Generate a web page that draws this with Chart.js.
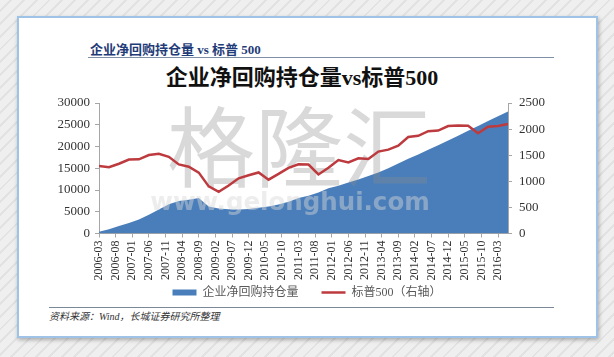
<!DOCTYPE html>
<html>
<head>
<meta charset="utf-8">
<script src="https://cdn.jsdelivr.net/npm/chart.js@4.4.1/dist/chart.umd.min.js"></script>
<style>
html,body{margin:0;padding:0;width:614px;height:357px;overflow:hidden;}
body{position:relative;background:repeating-linear-gradient(135deg,#efefef 0px,#efefef 7px,#e2e2e2 7px,#e2e2e2 9px);font-family:"Liberation Serif","Noto Sans CJK SC",serif;}
#card{position:absolute;left:17px;top:16px;width:577px;height:318px;background:#fff;border:2px solid #9fc3e7;box-shadow:1px 2px 4px rgba(0,0,0,0.28);}
#hdr{position:absolute;left:90px;top:42px;font-size:13px;line-height:16px;font-weight:bold;color:#1f3c78;white-space:nowrap;}
#hline{position:absolute;left:88px;top:57px;width:466px;height:0;border-top:1.5px solid #8090a4;}
#title{position:absolute;left:0;top:64px;width:604px;text-align:center;font-size:22px;line-height:28px;font-weight:bold;color:#111;white-space:nowrap;}
#fline{position:absolute;left:49px;top:307px;width:505px;height:0;border-top:1.5px solid #7a8898;}
#src{position:absolute;left:49px;top:310px;font-size:10px;line-height:14px;font-style:italic;color:#333;white-space:nowrap;}
#c{position:absolute;left:0;top:0;}
</style>
</head>
<body>
<div id="card"></div>
<div id="hdr">企业净回购持仓量 vs 标普 500</div>
<div id="hline"></div>
<div id="title">企业净回购持仓量vs标普500</div>
<div id="fline"></div>
<div id="src">资料来源：Wind，长城证券研究所整理</div>
<canvas id="c" width="614" height="357"></canvas>
<script>
// quarterly observation dates
const quarters = [
 '2006-03','2006-06','2006-09','2006-12',
 '2007-03','2007-06','2007-09','2007-12',
 '2008-03','2008-06','2008-09','2008-12',
 '2009-03','2009-06','2009-09','2009-12',
 '2010-03','2010-06','2010-09','2010-12',
 '2011-03','2011-06','2011-09','2011-12',
 '2012-03','2012-06','2012-09','2012-12',
 '2013-03','2013-06','2013-09','2013-12',
 '2014-03','2014-06','2014-09','2014-12',
 '2015-03','2015-06','2015-09','2015-12',
 '2016-03','2016-06'
];
// 企业净回购持仓量 (left axis)
const buyback = [
 400,1000,1700,2400,
 3200,4300,5500,6700,
 7450,7750,8150,6200,
 5750,5550,5500,5650,
 5900,6200,6650,7300,
 8150,8700,9400,10400,
 11000,11700,12400,13200,
 14000,15000,16100,17200,
 18150,19250,20300,21400,
 22500,23600,24700,25850,
 26950,28050
];
// 标普500 (right axis)
const sp500 = [
 1295,1270,1336,1418,
 1421,1503,1527,1468,
 1323,1280,1166,903,
 798,919,1057,1115,
 1169,1031,1141,1258,
 1326,1321,1131,1258,
 1408,1362,1441,1426,
 1569,1606,1682,1848,
 1872,1960,1972,2059,
 2068,2063,1920,2044,
 2060,2099
];
// x-axis tick labels (every 5 months)
const tickLabels = [
 '2006-03','2006-08','2007-01','2007-06','2007-11','2008-04','2008-09',
 '2009-02','2009-07','2009-12','2010-05','2010-10','2011-03','2011-08',
 '2012-01','2012-06','2012-11','2013-04','2013-09','2014-02','2014-07',
 '2014-12','2015-05','2015-10','2016-03'
];
const leftMax = 30000, leftStep = 5000;
const rightMax = 2500, rightStep = 500;

function monthIndex(s){
  const p = s.split('-').map(Number);
  return (p[0]-2006)*12 + (p[1]-3);
}
const lastMonth = monthIndex(quarters[quarters.length-1]);

Chart.defaults.font.family = '"Liberation Serif","Noto Sans CJK SC",serif';

const watermark = {
  id:'watermark',
  afterDatasetDraw(chart, args){
    if (args.index !== 0) return;
    const ctx = chart.ctx;
    ctx.save();
    ctx.textAlign = 'center';
    ctx.textBaseline = 'middle';
    ctx.fillStyle = 'rgba(140,140,140,0.33)';
    ctx.font = '88px "Noto Sans CJK SC"';
    ctx.fillText('格隆汇', 299, 147);
    const t = 'www.gelonghui.com';
    ctx.font = 'bold 28px "DejaVu Sans"';
    const w = ctx.measureText(t).width;
    const fs = 28 * 280 / w;
    ctx.font = 'bold ' + fs.toFixed(1) + 'px "DejaVu Sans"';
    ctx.fillStyle = 'rgba(215,215,215,0.45)';
    ctx.fillText(t, 290, 204);
    ctx.restore();
  }
};

// move the legend up, closer to the rotated date labels
const legendShift = {
  id:'legendShift',
  afterLayout(chart){
    const lg = chart.legend;
    if (!lg) return;
    lg.top -= 22; lg.bottom -= 22;
    if (lg.legendHitBoxes) lg.legendHitBoxes.forEach(h=>{ h.top -= 22; });
  }
};

const axisGray = '#a6a6a6';
const tickFont = {family:'"Liberation Serif",serif', size:13};

new Chart(document.getElementById('c'), {
  type:'line',
  data:{
    datasets:[
      {
        label:'企业净回购持仓量',
        data: quarters.map((q,i)=>({x:monthIndex(q), y:buyback[i]})),
        yAxisID:'y',
        fill:'origin',
        backgroundColor:'#4a7ebb',
        borderColor:'#4a7ebb',
        borderWidth:0,
        pointRadius:0,
        pointStyle:'rect',
        tension:0,
        order:2
      },
      {
        label:'标普500（右轴）',
        data: quarters.map((q,i)=>({x:monthIndex(q), y:sp500[i]})),
        yAxisID:'y1',
        fill:false,
        borderColor:'#bd3a3e',
        backgroundColor:'#bd3a3e',
        borderWidth:2.5,
        pointRadius:0,
        pointStyle:'line',
        tension:0,
        order:1
      }
    ]
  },
  options:{
    responsive:false,
    animation:false,
    layout:{padding:{top:103,left:0,right:0,bottom:26.5}},
    plugins:{
      legend:{
        position:'bottom',
        labels:{
          usePointStyle:true,
          pointStyleWidth:24,
          boxHeight:6,
          padding:23,
          color:'#595959',
          font:{family:'"Liberation Serif","Noto Sans CJK SC",serif', size:12},
          sort:(a,b)=>a.datasetIndex-b.datasetIndex
        }
      },
      tooltip:{enabled:false}
    },
    scales:{
      x:{
        type:'linear',
        min:0,
        max:lastMonth,
        afterBuildTicks:(s)=>{ s.ticks = tickLabels.map((_,i)=>({value:i*5})); },
        afterFit:(s)=>{ s.height = 52; },
        ticks:{
          autoSkip:false,
          maxRotation:90,
          minRotation:90,
          padding:3,
          color:'#333',
          font:{family:'"Liberation Serif",serif', size:12},
          callback:(v,i)=>tickLabels[i]
        },
        grid:{drawOnChartArea:false, drawTicks:true, tickLength:4, color:axisGray},
        border:{display:true, color:axisGray}
      },
      y:{
        position:'left',
        min:0, max:leftMax,
        afterFit:(s)=>{ s.width = 99; },
        ticks:{stepSize:leftStep, padding:5, color:'#333', font:tickFont, callback:(v)=>String(v)},
        grid:{drawOnChartArea:false, drawTicks:true, tickLength:4, color:axisGray},
        border:{display:true, color:axisGray}
      },
      y1:{
        position:'right',
        min:0, max:rightMax,
        afterFit:(s)=>{ s.width = 106; },
        ticks:{stepSize:rightStep, padding:7, color:'#333', font:tickFont, callback:(v)=>String(v)},
        grid:{drawOnChartArea:false, drawTicks:true, tickLength:4, color:axisGray},
        border:{display:true, color:axisGray}
      }
    }
  },
  plugins:[watermark, legendShift]
});
</script>
</body>
</html>
